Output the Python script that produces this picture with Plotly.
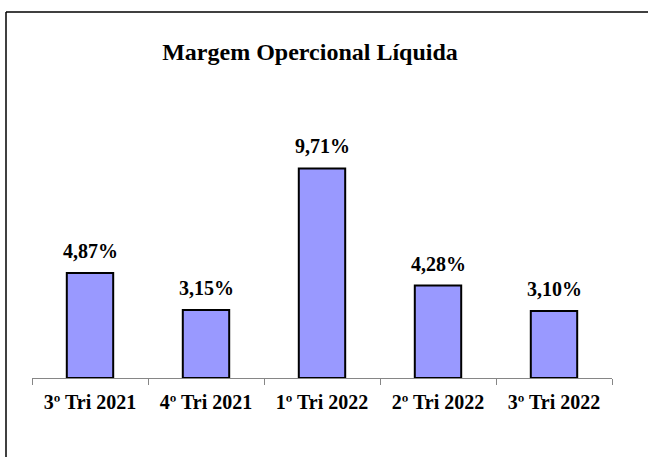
import plotly.graph_objects as go

categories = ["3º Tri 2021", "4º Tri 2021", "1º Tri 2022", "2º Tri 2022", "3º Tri 2022"]
values = [4.87, 3.15, 9.71, 4.28, 3.10]
labels = ["4,87%", "3,15%", "9,71%", "4,28%", "3,10%"]

FONT = "'Liberation Serif', 'Times New Roman', Times, serif"

W, H = 648, 457
L, R, T, B = 32, 36, 119, 79
pw, ph = W - L - R, H - T - B

fig = go.Figure()
fig.add_trace(go.Bar(
    x=categories, y=values,
    marker=dict(color="#9999FF", line=dict(color="black", width=2)),
    width=0.4,
    hoverinfo="skip",
))

for c, v, t in zip(categories, values, labels):
    fig.add_annotation(x=c, y=v, text="<b>%s</b>" % t, showarrow=False, yanchor="bottom", yshift=9,
                       font=dict(family=FONT, size=20, color="black"))

def px_x(p):
    return (p - L) / pw

def px_y(p):
    return (H - B - p) / ph

# partial frame (top and left borders)
fig.add_shape(type="line", xref="paper", yref="paper",
              x0=px_x(6), x1=px_x(W + 5), y0=px_y(12), y1=px_y(12),
              line=dict(color="black", width=1.5))
fig.add_shape(type="line", xref="paper", yref="paper",
              x0=px_x(6), x1=px_x(6), y0=px_y(12), y1=px_y(H + 5),
              line=dict(color="black", width=1.5))

fig.update_layout(
    width=W, height=H,
    margin=dict(l=L, r=R, t=T, b=B),
    paper_bgcolor="white", plot_bgcolor="white",
    showlegend=False,
    title=dict(text="<b>Margem Opercional Líquida</b>", x=310 / W, xanchor="center",
               y=1 - 52 / H, yanchor="middle",
               font=dict(family=FONT, size=24, color="black")),
    xaxis=dict(showline=True, linecolor="#868686", linewidth=1,
               ticks="outside", tickson="boundaries", ticklen=6, tickcolor="#868686",
               tickfont=dict(family=FONT, size=20, color="black"),
               tickvals=categories, ticktext=["<b>%s</b>" % c for c in categories],
               ticklabelstandoff=6, showgrid=False, fixedrange=True),
    yaxis=dict(range=[0, 12], visible=False, showgrid=False),
)

fig.write_html("out.html", config={"displayModeBar": False},
               post_script="document.body.style.margin='0';")
